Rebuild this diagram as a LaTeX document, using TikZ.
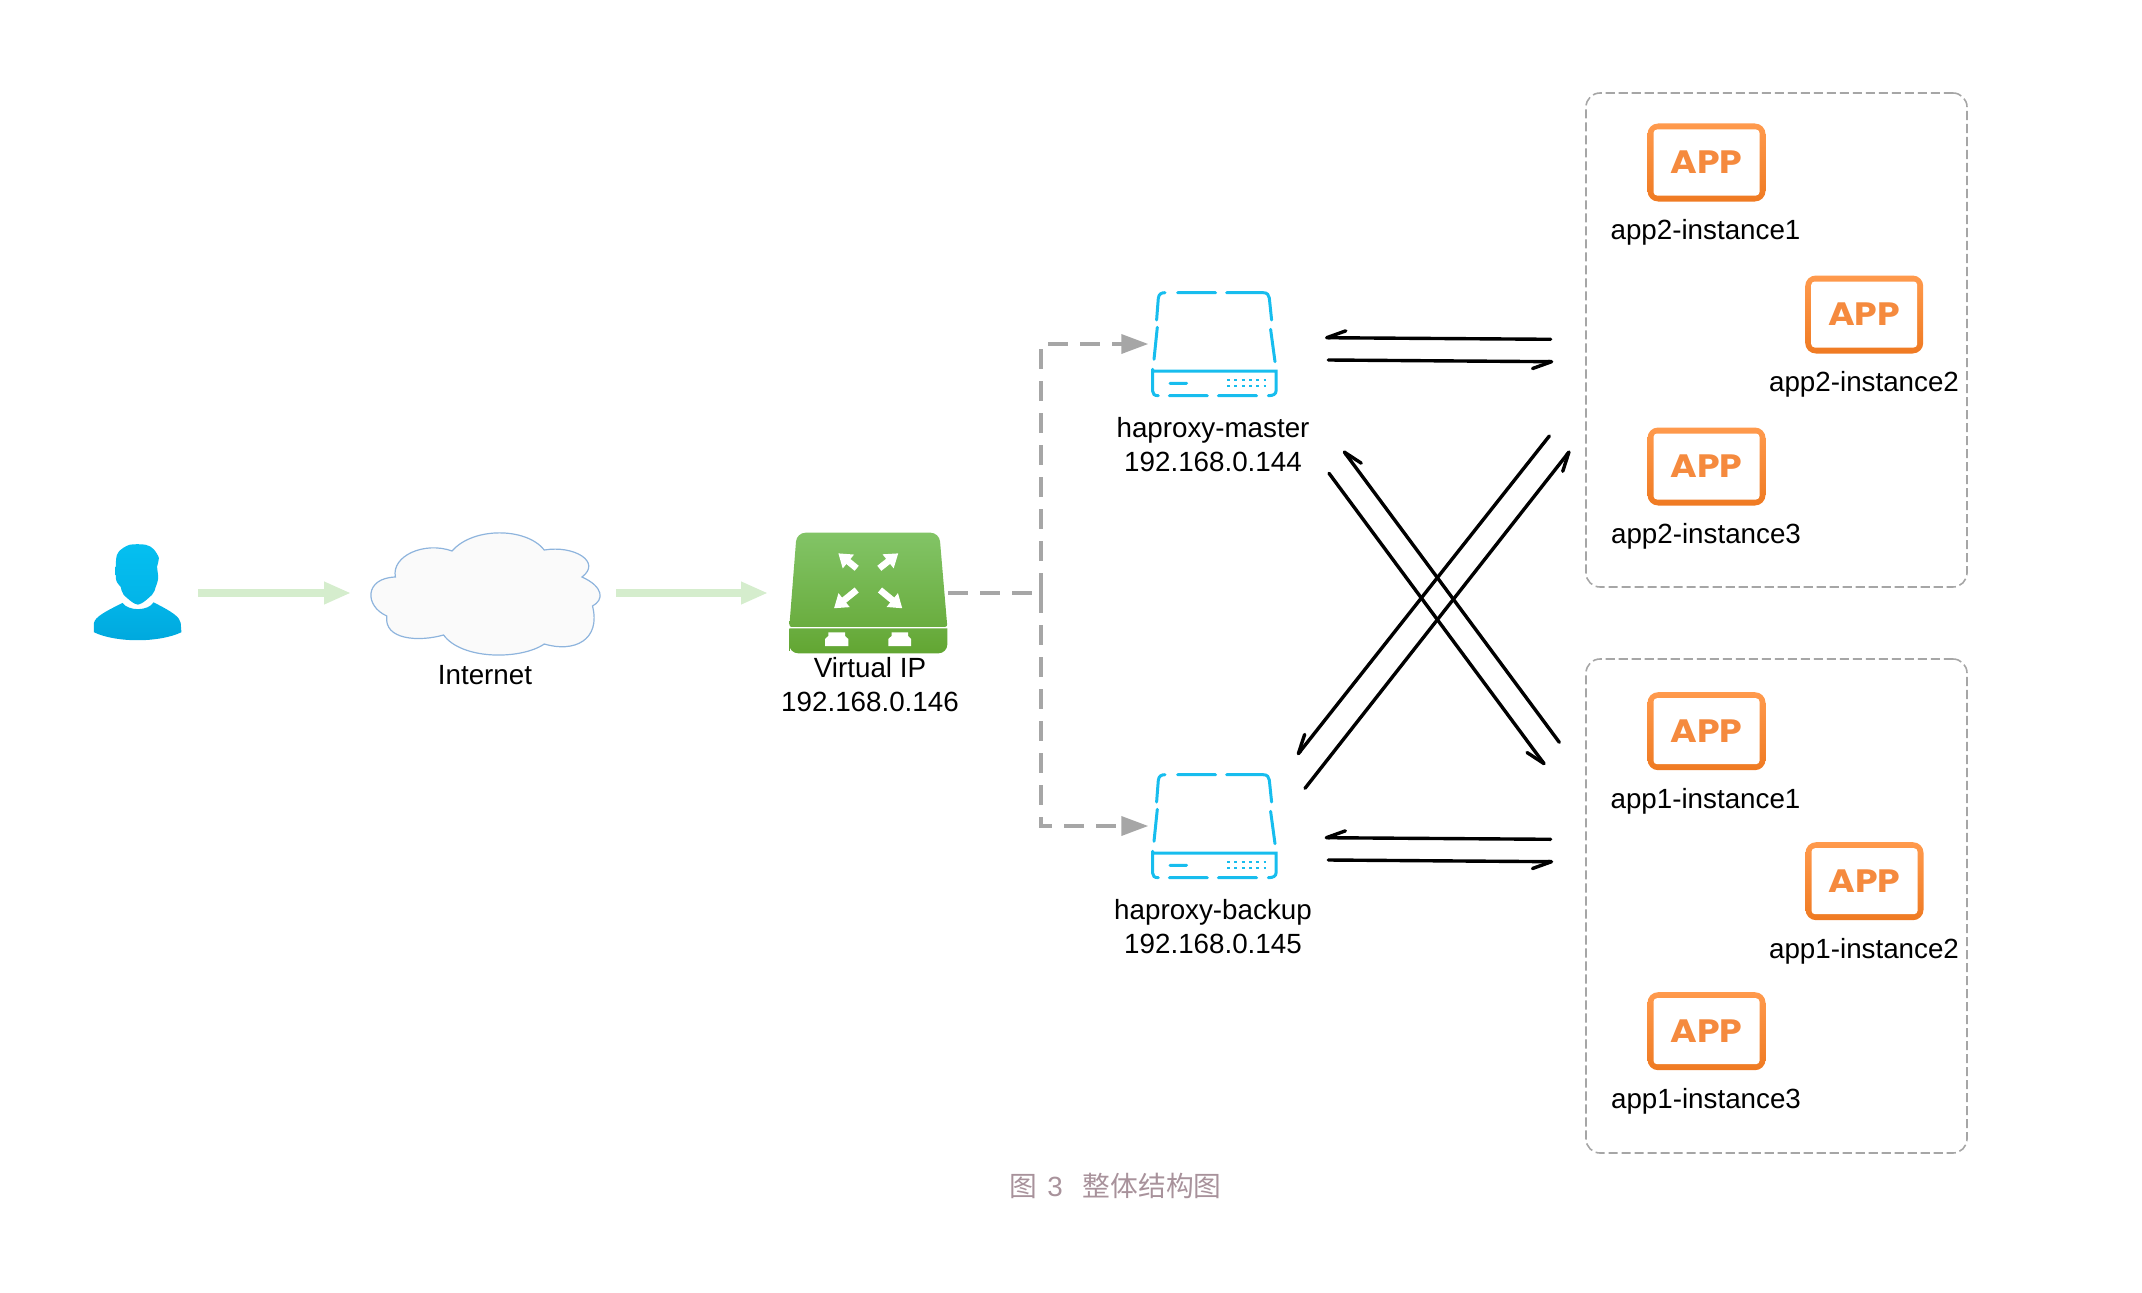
\documentclass[tikz,border=0pt]{standalone}
\usepackage{fontspec}
\setmainfont{Liberation Sans}
\newfontfamily\cjk{Noto Sans CJK SC}
\newfontfamily\appfont{Poppins}[FakeStretch=1.12]
\usetikzlibrary{arrows.meta,positioning,shapes,calc}

\definecolor{netgreen}{HTML}{D5EDCD}
\definecolor{linkgray}{HTML}{A6A6A6}
\definecolor{servblue}{HTML}{17BDEE}
\definecolor{usertop}{HTML}{05BFF0}
\definecolor{usermid}{HTML}{02B4E8}
\definecolor{userbot}{HTML}{00A8DD}
\definecolor{cloudblue}{HTML}{8EB4DD}
\definecolor{vipa}{HTML}{82C466}
\definecolor{vipb}{HTML}{6AAD3F}
\definecolor{vipc}{HTML}{62A632}
\definecolor{apptop}{HTML}{FF9A4D}
\definecolor{appbot}{HTML}{EF7A22}
\definecolor{appmid}{HTML}{F58A3E}
\definecolor{captiongray}{HTML}{A8929B}

\begin{document}
\begin{tikzpicture}[
    every node/.style={font=\fontsize{7.9}{9.7}\selectfont, align=center},
    icon/.style={inner sep=0pt, outer sep=0pt},
    appbox/.style={rectangle, inner sep=0pt, outer sep=0pt, minimum width=1.18cm, minimum height=0.78cm, rounded corners=3pt,
        top color=apptop, bottom color=appbot, text=appmid, font=\fontsize{9.2}{9.7}\selectfont\appfont\bfseries,
        path picture={\fill[white, rounded corners=1pt] ([shift={(0.06,0.06)}]path picture bounding box.south west) rectangle ([shift={(-0.06,-0.06)}]path picture bounding box.north east);}},
    group/.style={rectangle, draw=linkgray, line width=0.45pt, dash pattern=on 2.6pt off 1.1pt, rounded corners=4pt, inner sep=0pt, outer sep=0pt, minimum width=3.81cm, minimum height=4.94cm},
    netflow/.style={draw=netgreen, line width=0.08cm, -{Triangle[length=0.27cm,width=0.21cm]}},
    viplink/.style={draw=linkgray, line width=0.037cm, dash pattern=on 0.20cm off 0.12cm},
    vipflow/.style={viplink, -{Triangle[length=0.27cm,width=0.19cm]}},
    flow/.style={draw=black, line width=0.034cm, line cap=round, -{Straight Barb[harpoon,swap,round,length=0.19cm,width=0.14cm,line width=0.034cm]}},
    arrowin/.style={draw=white, line width=0.065cm, -{Triangle[length=0.13cm,width=0.17cm]}},
    server/.pic={
        \draw[servblue, line width=0.03cm, line cap=round]
            (-0.577,0.24) -- (-0.56,0.457) (-0.56,0.457) .. controls (-0.555,0.5) and (-0.53,0.513) .. (-0.493,0.513)
            (-0.367,0.513) -- (0.013,0.513)
            (0.123,0.513) -- (0.49,0.513) .. controls (0.53,0.513) and (0.545,0.49) .. (0.55,0.46) -- (0.573,0.24)
            (-0.57,0.167) -- (-0.603,-0.153)
            (0.563,0.147) -- (0.607,-0.177)
            (-0.617,-0.253) -- (-0.617,-0.47) .. controls (-0.617,-0.5) and (-0.6,-0.517) .. (-0.56,-0.517)
            (-0.617,-0.27) -- (0.617,-0.27) -- (0.617,-0.47) .. controls (0.617,-0.5) and (0.59,-0.517) .. (0.54,-0.517)
            (-0.45,-0.517) -- (-0.07,-0.517)
            (0.04,-0.517) -- (0.423,-0.517)
            (-0.443,-0.393) -- (-0.277,-0.393);
        \draw[servblue, line width=0.028cm, dash pattern=on 0.028cm off 0.045cm]
            (0.128,-0.36) -- (0.53,-0.36)
            (0.128,-0.42) -- (0.53,-0.42);
    }
]
\useasboundingbox (0,0) rectangle (21.42,12.92);

% Icon placeholders
\node[icon, minimum width=1.21cm, minimum height=0.96cm] (user) at (1.375,6.99) {};
\node[icon, minimum width=2.65cm, minimum height=1.2cm] (cloud) at (4.835,6.99) {};
\node[icon, minimum width=1.80cm, minimum height=1.2cm] (vip) at (8.58,6.99) {};
\node[icon, minimum width=1.32cm, minimum height=1.04cm] (master) at (12.143,9.48) {};
\node[icon, minimum width=1.32cm, minimum height=1.04cm] (backup) at (12.143,4.66) {};

% User
\begin{scope}[shift={(user.center)}, x=0.00357cm, y=-0.00333cm]
\shade[top color=usermid, bottom color=userbot] (-122,118) .. controls (-60,150) and (60,150) .. (123,118) -- (121,90) .. controls (118,72) and (100,58) .. (45,28) .. controls (30,55) and (-25,55) .. (-42,30) .. controls (-95,58) and (-118,72) .. (-122,90) -- cycle;
\shade[top color=usertop, bottom color=usermid] plot[smooth cycle, tension=0.5] coordinates {(-22,-145) (23,-145) (45,-132) (60,-105) (55,-80) (58,-45) (51,-18) (41,5) (1,35) (-39,5) (-47,-18) (-60,-40) (-60,-100) (-52,-125)};
\end{scope}

% Cloud
\draw[cloudblue, line width=0.012cm, fill=white!98!black] (3.954,7.15) .. controls (3.911,7.36) and (4.243,7.51) .. (4.521,7.41) .. controls (4.725,7.65) and (5.261,7.65) .. (5.443,7.42) .. controls (5.743,7.47) and (6.02,7.30) .. (5.82,7.15) .. controls (6.04,7.05) and (6.04,6.92) .. (5.925,6.86) .. controls (6.011,6.52) and (5.743,6.39) .. (5.443,6.48) .. controls (5.207,6.32) and (4.618,6.32) .. (4.436,6.57) .. controls (4.189,6.50) and (3.836,6.52) .. (3.868,6.76) .. controls (3.643,6.86) and (3.643,7.14) .. (3.954,7.15) -- cycle;

% Virtual IP switch
\shade[top color=vipa, bottom color=vipb, rounded corners=2.5pt] (7.93,6.652) [rounded corners=0.6pt] -- (7.893,6.652) [rounded corners=2.5pt] -- (7.967,7.593) -- (9.393,7.593) [rounded corners=0.6pt] -- (9.473,6.652) -- cycle;
\shade[top color=vipb, bottom color=vipc, rounded corners=2.5pt] (7.893,6.5) [sharp corners] -- (7.893,6.637) -- (9.473,6.637) -- (9.473,6.5) [rounded corners=2.5pt] -- (9.473,6.387) -- (7.893,6.387) -- cycle;
\draw[arrowin] (8.567,7.237) -- (8.383,7.387);
\draw[arrowin] (8.793,7.237) -- (8.983,7.387);
\draw[arrowin] (8.567,7.02) -- (8.34,6.837);
\draw[arrowin] (8.80,7.02) -- (9.023,6.837);
\fill[white] (8.25,6.46) -- (8.25,6.53) -- (8.283,6.56) -- (8.283,6.597) -- (8.45,6.597) -- (8.45,6.56) -- (8.483,6.53) -- (8.483,6.46) -- cycle;
\fill[white] (8.883,6.46) -- (8.883,6.53) -- (8.916,6.56) -- (8.916,6.597) -- (9.08,6.597) -- (9.08,6.56) -- (9.11,6.53) -- (9.11,6.46) -- cycle;

% Servers
\pic at (master) {server};
\pic at (backup) {server};

% App groups
\node[group] (app2group) at (17.765,9.52) {};
\node[group] (app1group) at (17.765,3.86) {};

\node[appbox] (app2a) at (17.065,11.295) {APP};
\node[appbox] (app2b) at (18.642,9.775) {APP};
\node[appbox] (app2c) at (17.065,8.255) {APP};
\node[appbox] (app1a) at (17.065,5.608) {APP};
\node[appbox] (app1b) at (18.645,4.108) {APP};
\node[appbox] (app1c) at (17.065,2.608) {APP};

% Labels
\node (cloudlabel) at (4.85,6.17) {Internet};
\node (viplabel) at (8.70,6.07) {Virtual IP\\192.168.0.146};
\node (masterlabel) at (12.13,8.47) {haproxy-master\\192.168.0.144};
\node (backuplabel) at (12.13,3.65) {haproxy-backup\\192.168.0.145};
\node (app2alabel) at (17.055,10.60) {app2-instance1};
\node (app2blabel) at (18.64,9.08) {app2-instance2};
\node (app2clabel) at (17.06,7.56) {app2-instance3};
\node (app1alabel) at (17.055,4.91) {app1-instance1};
\node (app1blabel) at (18.64,3.41) {app1-instance2};
\node (app1clabel) at (17.06,1.91) {app1-instance3};

\node[text=captiongray] (caption) at (11.155,1.06) {{\cjk 图}\hspace{0.10cm}3\hspace{0.2cm}{\cjk 整体结构图}};

% Internet flows
\draw[netflow] (user.east) -- (cloud.west);
\draw[netflow] (cloud.east) -- (vip.west);

% Virtual IP links
\coordinate (vipjoin) at (10.41,6.99);
\draw[viplink] (vip.east) -- (vipjoin);
\draw[vipflow] (vipjoin) |- (master.west);
\draw[vipflow] (vipjoin) |- (backup.west);

% Flows between servers and apps
\draw[flow] ([shift={(-0.353,0.007)}]app2group.west) -- ([shift={(0.447,0.063)}]master.east);
\draw[flow] ([shift={(0.48,-0.16)}]master.east) -- ([shift={(-0.327,-0.217)}]app2group.west);
\draw[flow] ([shift={(-0.353,0.667)}]app1group.west) -- ([shift={(0.443,-0.117)}]backup.east);
\draw[flow] ([shift={(0.479,-0.34)}]backup.east) -- ([shift={(-0.328,0.443)}]app1group.west);

\draw[flow] ([shift={(-0.367,-0.96)}]app2group.west) -- ([shift={(0.17,0.71)}]backup.east);
\draw[flow] ([shift={(0.247,0.377)}]backup.east) -- ([shift={(-0.16,-1.107)}]app2group.west);
\draw[flow] ([shift={(-0.267,1.637)}]app1group.west) -- ([shift={(0.63,-1.067)}]master.east);
\draw[flow] ([shift={(0.487,-1.293)}]master.east) -- ([shift={(-0.41,1.41)}]app1group.west);

\end{tikzpicture}
\end{document}
